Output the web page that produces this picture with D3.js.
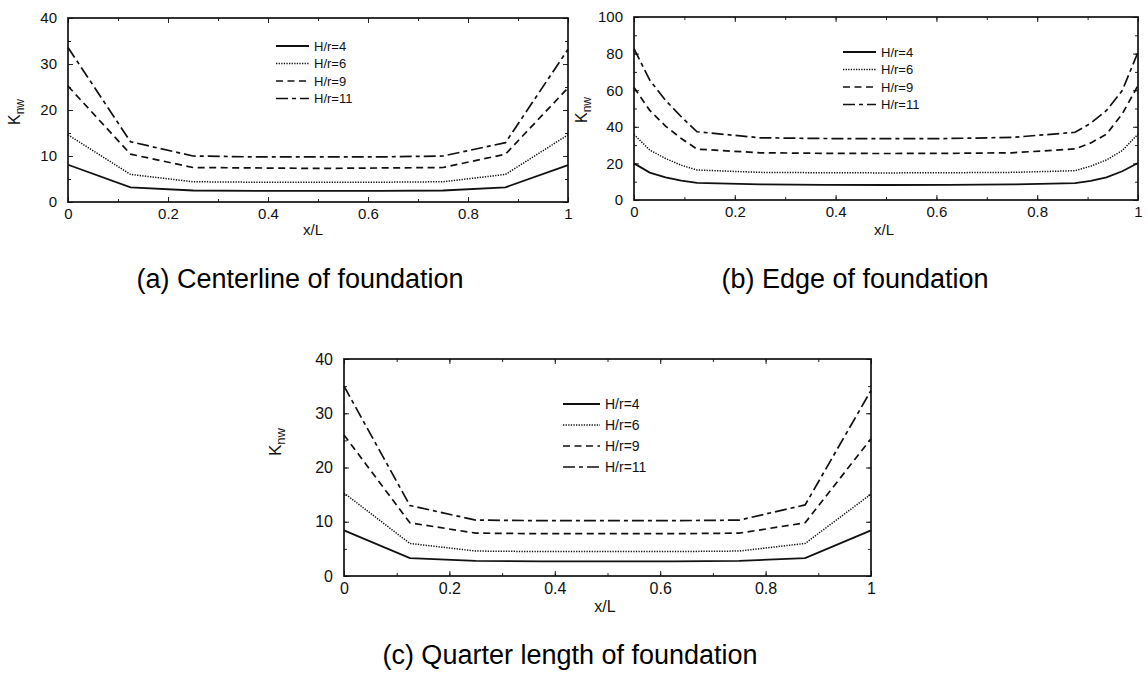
<!DOCTYPE html>
<html>
<head>
<meta charset="utf-8">
<script src="https://cdn.jsdelivr.net/npm/d3@7/dist/d3.min.js"></script>
<style>
  body { margin: 0; background: #fff; }
  svg { display: block; font-family: Arial, "Liberation Sans", sans-serif; }
</style>
</head>
<body>
<div id="chart"></div>
<script>
// ---- data ----
const seriesNames = ["H/r=4", "H/r=6", "H/r=9", "H/r=11"];

// (a) centerline
const xA = [0, 0.125, 0.25, 0.375, 0.5, 0.625, 0.75, 0.875, 1];
const aHr4 = [8.1, 3.2, 2.5, 2.4, 2.4, 2.4, 2.5, 3.2, 8.0];
const aHr6 = [14.6, 6.0, 4.4, 4.3, 4.3, 4.3, 4.4, 6.0, 14.6];
const aHr9 = [25.2, 10.4, 7.5, 7.4, 7.3, 7.4, 7.5, 10.4, 24.8];
const aHr11 = [33.6, 13.1, 10.0, 9.8, 9.8, 9.8, 10.0, 12.9, 33.2];

// (b) edge
const xB = [0, 0.03125, 0.0625, 0.09375, 0.125, 0.25, 0.375, 0.5, 0.625, 0.75, 0.875, 0.90625, 0.9375, 0.96875, 1];
const bHr4 = [20.0, 15.0, 12.4, 10.6, 9.4, 8.5, 8.3, 8.2, 8.3, 8.5, 9.2, 10.5, 12.4, 15.7, 20.2];
const bHr6 = [35.8, 27.3, 22.7, 19.0, 16.4, 15.1, 14.9, 14.8, 14.9, 15.1, 16.0, 18.5, 21.9, 27.0, 36.0];
const bHr9 = [61.5, 49.0, 40.4, 33.6, 27.8, 25.8, 25.5, 25.4, 25.5, 25.8, 27.9, 31.2, 36.0, 47.0, 62.6];
const bHr11 = [82.7, 65.5, 54.5, 45.5, 37.3, 34.0, 33.6, 33.5, 33.6, 34.2, 37.0, 42.0, 48.9, 59.8, 80.8];

// (c) quarter length
const xC = [0, 0.125, 0.25, 0.375, 0.5, 0.625, 0.75, 0.875, 1];
const cHr4 = [8.4, 3.3, 2.8, 2.7, 2.7, 2.7, 2.8, 3.3, 8.4];
const cHr6 = [15.3, 6.0, 4.6, 4.5, 4.5, 4.5, 4.6, 6.0, 15.1];
const cHr9 = [26.0, 9.8, 7.9, 7.8, 7.8, 7.8, 7.9, 9.8, 25.3];
const cHr11 = [35.0, 13.0, 10.3, 10.2, 10.2, 10.2, 10.3, 13.1, 34.2];

const xTicks = [0, 0.2, 0.4, 0.6, 0.8, 1];
const yTicksA = [0, 10, 20, 30, 40];
const yTicksB = [0, 20, 40, 60, 80, 100];

const captions = ["(a) Centerline of foundation", "(b) Edge of foundation", "(c) Quarter length of foundation"];

// line styles per series
const dashes = [null, "1.3,1.3", "7,4.5", "12,4,4,4"];
const widths = [1.8, 1.5, 1.7, 1.7];

const width = 1148, height = 680;
const svg = d3.select("#chart").append("svg")
    .attr("width", width)
    .attr("height", height);

function drawPanel(p) {
    const xScale = d3.scaleLinear().domain([0, 1]).range([p.left, p.right]);
    const yScale = d3.scaleLinear().domain(p.yDomain).range([p.bottom, p.top]);
    const g = svg.append("g");

    // ticks: inward on all four sides
    const tickLen = 5, minorLen = 3;
    const xMinor = d3.range(0, 1.0001, 0.1);
    const yMinor = d3.range(p.yDomain[0], p.yDomain[1] + 0.001, p.yMinorStep);

    const axisStyle = sel => sel.select(".domain").remove();

    g.append("g")
        .attr("transform", `translate(0,${p.bottom})`)
        .call(d3.axisTop(xScale).tickValues(xMinor).tickSize(minorLen).tickFormat(""))
        .call(axisStyle);
    g.append("g")
        .attr("transform", `translate(0,${p.top})`)
        .call(d3.axisBottom(xScale).tickValues(xMinor).tickSize(minorLen).tickFormat(""))
        .call(axisStyle);
    g.append("g")
        .attr("transform", `translate(${p.left},0)`)
        .call(d3.axisRight(yScale).tickValues(yMinor).tickSize(minorLen).tickFormat(""))
        .call(axisStyle);
    g.append("g")
        .attr("transform", `translate(${p.right},0)`)
        .call(d3.axisLeft(yScale).tickValues(yMinor).tickSize(minorLen).tickFormat(""))
        .call(axisStyle);

    // major ticks + labels
    const xAxis = g.append("g")
        .attr("transform", `translate(0,${p.bottom})`)
        .call(d3.axisBottom(xScale).tickValues(xTicks).tickSize(0).tickPadding(p.xPad)
            .tickFormat(d => d === 0 ? "0" : d === 1 ? "1" : d3.format(".1f")(d)))
        .call(axisStyle);
    xAxis.selectAll("text").style("font-size", p.tickFont + "px").attr("fill", "#111");

    const yAxis = g.append("g")
        .attr("transform", `translate(${p.left},0)`)
        .call(d3.axisLeft(yScale).tickValues(p.yTicks).tickSize(0).tickPadding(p.yPad))
        .call(axisStyle);
    yAxis.selectAll("text").style("font-size", p.tickFont + "px").attr("fill", "#111");

    g.append("g").attr("transform", `translate(0,${p.bottom})`)
        .call(d3.axisTop(xScale).tickValues(xTicks).tickSize(tickLen).tickFormat("")).call(axisStyle);
    g.append("g").attr("transform", `translate(0,${p.top})`)
        .call(d3.axisBottom(xScale).tickValues(xTicks).tickSize(tickLen).tickFormat("")).call(axisStyle);
    g.append("g").attr("transform", `translate(${p.left},0)`)
        .call(d3.axisRight(yScale).tickValues(p.yTicks).tickSize(tickLen).tickFormat("")).call(axisStyle);
    g.append("g").attr("transform", `translate(${p.right},0)`)
        .call(d3.axisLeft(yScale).tickValues(p.yTicks).tickSize(tickLen).tickFormat("")).call(axisStyle);

    g.selectAll(".tick line").attr("stroke", "#222").attr("stroke-width", 1);

    // frame
    g.append("rect")
        .attr("x", p.left).attr("y", p.top)
        .attr("width", p.right - p.left).attr("height", p.bottom - p.top)
        .attr("fill", "none").attr("stroke", "#111").attr("stroke-width", 1.7);

    // curves
    const line = d3.line()
        .x(d => xScale(d.x))
        .y(d => yScale(d.y));

    p.series.forEach((vals, i) => {
        const pts = p.x.map((x, j) => ({ x: x, y: vals[j] }));
        g.append("path")
            .datum(pts)
            .attr("d", line)
            .attr("fill", "none")
            .attr("stroke", "#111")
            .attr("stroke-width", widths[i])
            .attr("stroke-dasharray", dashes[i]);
    });

    // legend
    const leg = g.append("g").attr("transform", `translate(${p.legX},${p.legY})`);
    seriesNames.forEach((name, i) => {
        const row = leg.append("g").attr("transform", `translate(0,${i * p.legStep})`);
        row.append("line")
            .attr("x1", 0).attr("x2", p.legLen)
            .attr("y1", 0).attr("y2", 0)
            .attr("stroke", "#111")
            .attr("stroke-width", widths[i])
            .attr("stroke-dasharray", dashes[i]);
        row.append("text")
            .attr("x", p.legLen + 5)
            .attr("y", 0)
            .attr("dy", "0.35em")
            .style("font-size", p.legFont + "px")
            .attr("fill", "#111")
            .text(name);
    });

    // axis titles
    g.append("text")
        .attr("x", p.xLabel[0]).attr("y", p.xLabel[1])
        .attr("text-anchor", "middle")
        .style("font-size", p.tickFont + "px")
        .attr("fill", "#111")
        .text("x/L");

    const yl = g.append("text")
        .attr("transform", `translate(${p.yLabel[0]},${p.yLabel[1]}) rotate(-90)`)
        .attr("text-anchor", "middle")
        .style("font-size", (p.tickFont + 1) + "px")
        .attr("fill", "#111");
    yl.append("tspan").text("K");
    yl.append("tspan").attr("dy", "0.3em").style("font-size", (p.tickFont - 3) + "px").text("nw");

    // caption
    svg.append("text")
        .attr("x", p.cap[0]).attr("y", p.cap[1])
        .attr("text-anchor", "middle")
        .style("font-size", "27px")
        .attr("fill", "#000")
        .text(p.caption);
}

drawPanel({
    left: 68, right: 568, top: 18, bottom: 202,
    yDomain: [0, 40], yTicks: yTicksA, yMinorStep: 5,
    x: xA, series: [aHr4, aHr6, aHr9, aHr11],
    tickFont: 15, xPad: 6, yPad: 11,
    legX: 276, legY: 46, legStep: 17.5, legLen: 33, legFont: 13,
    xLabel: [313, 235], yLabel: [20, 112],
    cap: [300, 288], caption: captions[0]
});

drawPanel({
    left: 634, right: 1138, top: 17, bottom: 200,
    yDomain: [0, 100], yTicks: yTicksB, yMinorStep: 10,
    x: xB, series: [bHr4, bHr6, bHr9, bHr11],
    tickFont: 15, xPad: 6, yPad: 11,
    legX: 843, legY: 52, legStep: 17.5, legLen: 33, legFont: 13,
    xLabel: [884, 235], yLabel: [587, 110],
    cap: [855, 288], caption: captions[1]
});

drawPanel({
    left: 344, right: 871, top: 359, bottom: 576,
    yDomain: [0, 40], yTicks: yTicksA, yMinorStep: 5,
    x: xC, series: [cHr4, cHr6, cHr9, cHr11],
    tickFont: 16, xPad: 7, yPad: 11,
    legX: 563, legY: 404, legStep: 21, legLen: 37, legFont: 14,
    xLabel: [605, 612], yLabel: [281, 442],
    cap: [570, 664], caption: captions[2]
});
</script>
</body>
</html>
